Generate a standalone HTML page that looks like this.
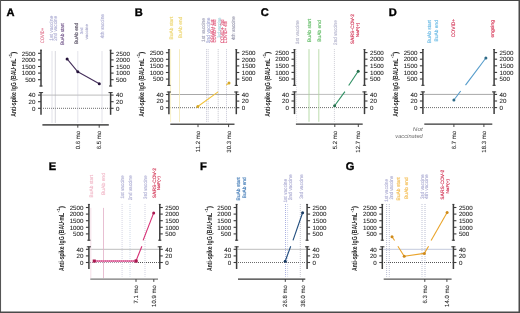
<!DOCTYPE html>
<html><head><meta charset="utf-8"><title>Figure</title>
<style>
html,body{margin:0;padding:0;background:#fff;}
body{width:520px;height:313px;overflow:hidden;}
svg{display:block;filter:blur(0.4px);text-rendering:geometricPrecision;font-family:"Liberation Sans", sans-serif;}
</style></head>
<body>
<svg width="520" height="313" viewBox="0 0 520 313">
<rect x="0" y="0" width="520" height="313" fill="#fff"/>
<text x="6.40" y="15.70" font-size="11.1" font-weight="bold" fill="#000" stroke="#000" stroke-width="0.35">A</text>
<text transform="translate(16.10,116.80) rotate(-90)" font-size="7.4" font-weight="bold" fill="#1e1e1e" textLength="58.2" lengthAdjust="spacingAndGlyphs">Anti-spike IgG (BAU·mL</text>
<text transform="translate(12.40,58.30) rotate(-90)" font-size="4.6" font-weight="bold" fill="#1e1e1e" textLength="4.5" lengthAdjust="spacingAndGlyphs">-1</text>
<text transform="translate(16.10,54.00) rotate(-90)" font-size="7.4" font-weight="bold" fill="#1e1e1e" textLength="2.5" lengthAdjust="spacingAndGlyphs">)</text>
<line x1="41.80" y1="95.10" x2="109.80" y2="95.10" stroke="#bdbdbd" stroke-width="1.0" stroke-linecap="butt"/>
<line x1="43.00" y1="108.30" x2="109.60" y2="108.30" stroke="#6c6c6c" stroke-width="1.0" stroke-dasharray="1 1" stroke-linecap="butt"/>
<line x1="52.00" y1="51.50" x2="52.00" y2="122.50" stroke="#c2c2d2" stroke-width="0.9" stroke-dasharray="1 1" stroke-linecap="butt"/>
<line x1="55.30" y1="51.50" x2="55.30" y2="122.50" stroke="#a8a8b4" stroke-width="0.9" stroke-dasharray="1 1" stroke-linecap="butt"/>
<line x1="77.80" y1="51.50" x2="77.80" y2="122.50" stroke="#c2c2d2" stroke-width="0.9" stroke-dasharray="1 1" stroke-linecap="butt"/>
<line x1="102.00" y1="51.50" x2="102.00" y2="122.50" stroke="#c2c2d2" stroke-width="0.9" stroke-dasharray="1 1" stroke-linecap="butt"/>
<line x1="41.00" y1="49.80" x2="41.00" y2="86.50" stroke="#3c3c3c" stroke-width="1.5" stroke-linecap="butt"/>
<line x1="39.40" y1="86.00" x2="42.60" y2="86.00" stroke="#3c3c3c" stroke-width="1.0" stroke-linecap="butt"/>
<line x1="40.00" y1="50.20" x2="42.00" y2="50.20" stroke="#3c3c3c" stroke-width="0.8" stroke-linecap="butt"/>
<line x1="41.00" y1="92.10" x2="41.00" y2="114.80" stroke="#3c3c3c" stroke-width="1.5" stroke-linecap="butt"/>
<line x1="38.90" y1="92.60" x2="43.10" y2="92.60" stroke="#3c3c3c" stroke-width="1.0" stroke-linecap="butt"/>
<line x1="41.00" y1="53.30" x2="38.00" y2="53.30" stroke="#3c3c3c" stroke-width="1.1" stroke-linecap="butt"/>
<text x="35.50" y="55.50" font-size="6.2" text-anchor="end" fill="#1e1e1e" stroke="#1e1e1e" stroke-width="0.08">2500</text>
<line x1="41.00" y1="59.90" x2="38.00" y2="59.90" stroke="#3c3c3c" stroke-width="1.1" stroke-linecap="butt"/>
<text x="35.50" y="62.10" font-size="6.2" text-anchor="end" fill="#1e1e1e" stroke="#1e1e1e" stroke-width="0.08">2000</text>
<line x1="41.00" y1="66.50" x2="38.00" y2="66.50" stroke="#3c3c3c" stroke-width="1.1" stroke-linecap="butt"/>
<text x="35.50" y="68.70" font-size="6.2" text-anchor="end" fill="#1e1e1e" stroke="#1e1e1e" stroke-width="0.08">1500</text>
<line x1="41.00" y1="73.10" x2="38.00" y2="73.10" stroke="#3c3c3c" stroke-width="1.1" stroke-linecap="butt"/>
<text x="35.50" y="75.30" font-size="6.2" text-anchor="end" fill="#1e1e1e" stroke="#1e1e1e" stroke-width="0.08">1000</text>
<line x1="41.00" y1="79.70" x2="38.00" y2="79.70" stroke="#3c3c3c" stroke-width="1.1" stroke-linecap="butt"/>
<text x="35.50" y="81.90" font-size="6.2" text-anchor="end" fill="#1e1e1e" stroke="#1e1e1e" stroke-width="0.08">500</text>
<line x1="41.00" y1="95.10" x2="38.00" y2="95.10" stroke="#3c3c3c" stroke-width="1.1" stroke-linecap="butt"/>
<text x="35.50" y="97.30" font-size="6.2" text-anchor="end" fill="#1e1e1e" stroke="#1e1e1e" stroke-width="0.08">40</text>
<line x1="41.00" y1="101.70" x2="38.00" y2="101.70" stroke="#3c3c3c" stroke-width="1.1" stroke-linecap="butt"/>
<text x="35.50" y="103.90" font-size="6.2" text-anchor="end" fill="#1e1e1e" stroke="#1e1e1e" stroke-width="0.08">20</text>
<line x1="41.00" y1="108.30" x2="38.00" y2="108.30" stroke="#3c3c3c" stroke-width="1.1" stroke-linecap="butt"/>
<text x="35.50" y="110.50" font-size="6.2" text-anchor="end" fill="#1e1e1e" stroke="#1e1e1e" stroke-width="0.08">0</text>
<line x1="110.60" y1="49.80" x2="110.60" y2="86.50" stroke="#3c3c3c" stroke-width="1.5" stroke-linecap="butt"/>
<line x1="109.00" y1="86.00" x2="112.20" y2="86.00" stroke="#3c3c3c" stroke-width="1.0" stroke-linecap="butt"/>
<line x1="109.60" y1="50.20" x2="111.60" y2="50.20" stroke="#3c3c3c" stroke-width="0.8" stroke-linecap="butt"/>
<line x1="110.60" y1="92.10" x2="110.60" y2="114.80" stroke="#3c3c3c" stroke-width="1.5" stroke-linecap="butt"/>
<line x1="108.50" y1="92.60" x2="112.70" y2="92.60" stroke="#3c3c3c" stroke-width="1.0" stroke-linecap="butt"/>
<line x1="110.60" y1="53.30" x2="113.60" y2="53.30" stroke="#3c3c3c" stroke-width="1.1" stroke-linecap="butt"/>
<text x="116.10" y="55.50" font-size="6.2" fill="#1e1e1e" stroke="#1e1e1e" stroke-width="0.08">2500</text>
<line x1="110.60" y1="59.90" x2="113.60" y2="59.90" stroke="#3c3c3c" stroke-width="1.1" stroke-linecap="butt"/>
<text x="116.10" y="62.10" font-size="6.2" fill="#1e1e1e" stroke="#1e1e1e" stroke-width="0.08">2000</text>
<line x1="110.60" y1="66.50" x2="113.60" y2="66.50" stroke="#3c3c3c" stroke-width="1.1" stroke-linecap="butt"/>
<text x="116.10" y="68.70" font-size="6.2" fill="#1e1e1e" stroke="#1e1e1e" stroke-width="0.08">1500</text>
<line x1="110.60" y1="73.10" x2="113.60" y2="73.10" stroke="#3c3c3c" stroke-width="1.1" stroke-linecap="butt"/>
<text x="116.10" y="75.30" font-size="6.2" fill="#1e1e1e" stroke="#1e1e1e" stroke-width="0.08">1000</text>
<line x1="110.60" y1="79.70" x2="113.60" y2="79.70" stroke="#3c3c3c" stroke-width="1.1" stroke-linecap="butt"/>
<text x="116.10" y="81.90" font-size="6.2" fill="#1e1e1e" stroke="#1e1e1e" stroke-width="0.08">500</text>
<line x1="110.60" y1="95.10" x2="113.60" y2="95.10" stroke="#3c3c3c" stroke-width="1.1" stroke-linecap="butt"/>
<text x="116.10" y="97.30" font-size="6.2" fill="#1e1e1e" stroke="#1e1e1e" stroke-width="0.08">40</text>
<line x1="110.60" y1="101.70" x2="113.60" y2="101.70" stroke="#3c3c3c" stroke-width="1.1" stroke-linecap="butt"/>
<text x="116.10" y="103.90" font-size="6.2" fill="#1e1e1e" stroke="#1e1e1e" stroke-width="0.08">20</text>
<line x1="110.60" y1="108.30" x2="113.60" y2="108.30" stroke="#3c3c3c" stroke-width="1.1" stroke-linecap="butt"/>
<text x="116.10" y="110.50" font-size="6.2" fill="#1e1e1e" stroke="#1e1e1e" stroke-width="0.08">0</text>
<line x1="42.40" y1="124.90" x2="108.80" y2="124.90" stroke="#5c5c5c" stroke-width="1.7" stroke-linecap="butt"/>
<line x1="77.80" y1="124.90" x2="77.80" y2="127.70" stroke="#333" stroke-width="0.9" stroke-linecap="butt"/>
<text transform="translate(79.90,131.00) rotate(-90)" font-size="6" text-anchor="end" fill="#1e1e1e" stroke="#1e1e1e" stroke-width="0.08">0.6 mo</text>
<line x1="99.20" y1="124.90" x2="99.20" y2="127.70" stroke="#333" stroke-width="0.9" stroke-linecap="butt"/>
<text transform="translate(101.30,131.00) rotate(-90)" font-size="6" text-anchor="end" fill="#1e1e1e" stroke="#1e1e1e" stroke-width="0.08">6.5 mo</text>
<text transform="translate(44.35,43.00) rotate(-90)" font-size="5.0" font-weight="normal" font-style="normal" fill="#e27c94" stroke="#e27c94" stroke-width="0.16" textLength="15.10" lengthAdjust="spacingAndGlyphs">COVID+</text>
<text transform="translate(53.05,40.70) rotate(-90)" font-size="5.0" font-weight="normal" font-style="normal" fill="#b2b2d6" stroke="#b2b2d6" stroke-width="0.16" textLength="24.90" lengthAdjust="spacingAndGlyphs">1st vaccine</text>
<text transform="translate(57.05,40.70) rotate(-90)" font-size="5.0" font-weight="normal" font-style="normal" fill="#b2b2d6" stroke="#b2b2d6" stroke-width="0.16" textLength="24.90" lengthAdjust="spacingAndGlyphs">2nd vaccine</text>
<text transform="translate(64.35,44.90) rotate(-90)" font-size="5.0" font-weight="normal" font-style="normal" fill="#765a8e" stroke="#765a8e" stroke-width="0.16" textLength="21.60" lengthAdjust="spacingAndGlyphs">BuAb start</text>
<text transform="translate(77.55,43.90) rotate(-90)" font-size="5.0" font-weight="normal" font-style="normal" fill="#585064" stroke="#585064" stroke-width="0.16" textLength="21.10" lengthAdjust="spacingAndGlyphs">BuAb end</text>
<text transform="translate(82.72,34.20) rotate(-90)" font-size="4.0" font-weight="normal" font-style="normal" fill="#b2b2d6" stroke="#b2b2d6" stroke-width="0.16" textLength="6.70" lengthAdjust="spacingAndGlyphs">3rd</text>
<text transform="translate(88.32,39.50) rotate(-90)" font-size="4.0" font-weight="normal" font-style="normal" fill="#b0b0d0" stroke="#b0b0d0" stroke-width="0.16" textLength="15.50" lengthAdjust="spacingAndGlyphs">vaccine</text>
<text transform="translate(104.15,38.20) rotate(-90)" font-size="5.0" font-weight="normal" font-style="normal" fill="#b2b2d6" stroke="#b2b2d6" stroke-width="0.16" textLength="24.20" lengthAdjust="spacingAndGlyphs">4th vaccine</text>
<polyline points="67.10,58.90 77.80,71.80 99.30,83.80" fill="none" stroke="#46305c" stroke-width="1.1" stroke-linejoin="round"/>
<circle cx="67.10" cy="58.90" r="1.5" fill="#24123a"/>
<circle cx="77.80" cy="71.80" r="1.5" fill="#24123a"/>
<circle cx="99.30" cy="83.80" r="1.5" fill="#24123a"/>
<text x="134.80" y="15.70" font-size="11.1" font-weight="bold" fill="#000" stroke="#000" stroke-width="0.35">B</text>
<text transform="translate(144.00,116.80) rotate(-90)" font-size="7.4" font-weight="bold" fill="#1e1e1e" textLength="58.2" lengthAdjust="spacingAndGlyphs">Anti-spike IgG (BAU·mL</text>
<text transform="translate(140.30,58.30) rotate(-90)" font-size="4.6" font-weight="bold" fill="#1e1e1e" textLength="4.5" lengthAdjust="spacingAndGlyphs">-1</text>
<text transform="translate(144.00,54.00) rotate(-90)" font-size="7.4" font-weight="bold" fill="#1e1e1e" textLength="2.5" lengthAdjust="spacingAndGlyphs">)</text>
<line x1="169.70" y1="94.50" x2="235.50" y2="94.50" stroke="#a8a8a8" stroke-width="1.0" stroke-linecap="butt"/>
<line x1="170.00" y1="107.70" x2="235.30" y2="107.70" stroke="#6c6c6c" stroke-width="1.0" stroke-dasharray="1 1" stroke-linecap="butt"/>
<line x1="170.60" y1="49.20" x2="170.60" y2="121.90" stroke="#f6eebc" stroke-width="0.8" stroke-linecap="butt"/>
<line x1="179.50" y1="49.20" x2="179.50" y2="121.90" stroke="#f3e6b0" stroke-width="0.8" stroke-linecap="butt"/>
<line x1="206.50" y1="49.20" x2="206.50" y2="121.90" stroke="#c2c2d2" stroke-width="0.9" stroke-dasharray="1 1" stroke-linecap="butt"/>
<line x1="208.20" y1="49.20" x2="208.20" y2="121.90" stroke="#c2c2d2" stroke-width="0.9" stroke-dasharray="1 1" stroke-linecap="butt"/>
<line x1="218.20" y1="49.20" x2="218.20" y2="121.90" stroke="#c0c0c8" stroke-width="0.9" stroke-dasharray="1 1" stroke-linecap="butt"/>
<line x1="226.50" y1="49.20" x2="226.50" y2="121.90" stroke="#c2c2d2" stroke-width="0.9" stroke-dasharray="1 1" stroke-linecap="butt"/>
<line x1="168.90" y1="49.20" x2="168.90" y2="85.90" stroke="#3c3c3c" stroke-width="1.5" stroke-linecap="butt"/>
<line x1="167.30" y1="85.40" x2="170.50" y2="85.40" stroke="#3c3c3c" stroke-width="1.0" stroke-linecap="butt"/>
<line x1="167.90" y1="49.60" x2="169.90" y2="49.60" stroke="#3c3c3c" stroke-width="0.8" stroke-linecap="butt"/>
<line x1="168.90" y1="91.50" x2="168.90" y2="114.20" stroke="#3c3c3c" stroke-width="1.5" stroke-linecap="butt"/>
<line x1="166.80" y1="92.00" x2="171.00" y2="92.00" stroke="#3c3c3c" stroke-width="1.0" stroke-linecap="butt"/>
<line x1="168.90" y1="52.70" x2="165.90" y2="52.70" stroke="#3c3c3c" stroke-width="1.1" stroke-linecap="butt"/>
<text x="163.40" y="54.90" font-size="6.2" text-anchor="end" fill="#1e1e1e" stroke="#1e1e1e" stroke-width="0.08">2500</text>
<line x1="168.90" y1="59.30" x2="165.90" y2="59.30" stroke="#3c3c3c" stroke-width="1.1" stroke-linecap="butt"/>
<text x="163.40" y="61.50" font-size="6.2" text-anchor="end" fill="#1e1e1e" stroke="#1e1e1e" stroke-width="0.08">2000</text>
<line x1="168.90" y1="65.90" x2="165.90" y2="65.90" stroke="#3c3c3c" stroke-width="1.1" stroke-linecap="butt"/>
<text x="163.40" y="68.10" font-size="6.2" text-anchor="end" fill="#1e1e1e" stroke="#1e1e1e" stroke-width="0.08">1500</text>
<line x1="168.90" y1="72.50" x2="165.90" y2="72.50" stroke="#3c3c3c" stroke-width="1.1" stroke-linecap="butt"/>
<text x="163.40" y="74.70" font-size="6.2" text-anchor="end" fill="#1e1e1e" stroke="#1e1e1e" stroke-width="0.08">1000</text>
<line x1="168.90" y1="79.10" x2="165.90" y2="79.10" stroke="#3c3c3c" stroke-width="1.1" stroke-linecap="butt"/>
<text x="163.40" y="81.30" font-size="6.2" text-anchor="end" fill="#1e1e1e" stroke="#1e1e1e" stroke-width="0.08">500</text>
<line x1="168.90" y1="94.50" x2="165.90" y2="94.50" stroke="#3c3c3c" stroke-width="1.1" stroke-linecap="butt"/>
<text x="163.40" y="96.70" font-size="6.2" text-anchor="end" fill="#1e1e1e" stroke="#1e1e1e" stroke-width="0.08">40</text>
<line x1="168.90" y1="101.10" x2="165.90" y2="101.10" stroke="#3c3c3c" stroke-width="1.1" stroke-linecap="butt"/>
<text x="163.40" y="103.30" font-size="6.2" text-anchor="end" fill="#1e1e1e" stroke="#1e1e1e" stroke-width="0.08">20</text>
<line x1="168.90" y1="107.70" x2="165.90" y2="107.70" stroke="#3c3c3c" stroke-width="1.1" stroke-linecap="butt"/>
<text x="163.40" y="109.90" font-size="6.2" text-anchor="end" fill="#1e1e1e" stroke="#1e1e1e" stroke-width="0.08">0</text>
<line x1="236.30" y1="49.20" x2="236.30" y2="85.90" stroke="#3c3c3c" stroke-width="1.5" stroke-linecap="butt"/>
<line x1="234.70" y1="85.40" x2="237.90" y2="85.40" stroke="#3c3c3c" stroke-width="1.0" stroke-linecap="butt"/>
<line x1="235.30" y1="49.60" x2="237.30" y2="49.60" stroke="#3c3c3c" stroke-width="0.8" stroke-linecap="butt"/>
<line x1="236.30" y1="91.50" x2="236.30" y2="114.20" stroke="#3c3c3c" stroke-width="1.5" stroke-linecap="butt"/>
<line x1="234.20" y1="92.00" x2="238.40" y2="92.00" stroke="#3c3c3c" stroke-width="1.0" stroke-linecap="butt"/>
<line x1="236.30" y1="52.70" x2="239.30" y2="52.70" stroke="#3c3c3c" stroke-width="1.1" stroke-linecap="butt"/>
<text x="241.80" y="54.90" font-size="6.2" fill="#1e1e1e" stroke="#1e1e1e" stroke-width="0.08">2500</text>
<line x1="236.30" y1="59.30" x2="239.30" y2="59.30" stroke="#3c3c3c" stroke-width="1.1" stroke-linecap="butt"/>
<text x="241.80" y="61.50" font-size="6.2" fill="#1e1e1e" stroke="#1e1e1e" stroke-width="0.08">2000</text>
<line x1="236.30" y1="65.90" x2="239.30" y2="65.90" stroke="#3c3c3c" stroke-width="1.1" stroke-linecap="butt"/>
<text x="241.80" y="68.10" font-size="6.2" fill="#1e1e1e" stroke="#1e1e1e" stroke-width="0.08">1500</text>
<line x1="236.30" y1="72.50" x2="239.30" y2="72.50" stroke="#3c3c3c" stroke-width="1.1" stroke-linecap="butt"/>
<text x="241.80" y="74.70" font-size="6.2" fill="#1e1e1e" stroke="#1e1e1e" stroke-width="0.08">1000</text>
<line x1="236.30" y1="79.10" x2="239.30" y2="79.10" stroke="#3c3c3c" stroke-width="1.1" stroke-linecap="butt"/>
<text x="241.80" y="81.30" font-size="6.2" fill="#1e1e1e" stroke="#1e1e1e" stroke-width="0.08">500</text>
<line x1="236.30" y1="94.50" x2="239.30" y2="94.50" stroke="#3c3c3c" stroke-width="1.1" stroke-linecap="butt"/>
<text x="241.80" y="96.70" font-size="6.2" fill="#1e1e1e" stroke="#1e1e1e" stroke-width="0.08">40</text>
<line x1="236.30" y1="101.10" x2="239.30" y2="101.10" stroke="#3c3c3c" stroke-width="1.1" stroke-linecap="butt"/>
<text x="241.80" y="103.30" font-size="6.2" fill="#1e1e1e" stroke="#1e1e1e" stroke-width="0.08">20</text>
<line x1="236.30" y1="107.70" x2="239.30" y2="107.70" stroke="#3c3c3c" stroke-width="1.1" stroke-linecap="butt"/>
<text x="241.80" y="109.90" font-size="6.2" fill="#1e1e1e" stroke="#1e1e1e" stroke-width="0.08">0</text>
<line x1="170.30" y1="124.30" x2="234.50" y2="124.30" stroke="#555" stroke-width="1.5" stroke-linecap="butt"/>
<line x1="198.00" y1="124.30" x2="198.00" y2="127.10" stroke="#333" stroke-width="0.9" stroke-linecap="butt"/>
<text transform="translate(200.10,131.00) rotate(-90)" font-size="6" text-anchor="end" fill="#1e1e1e" stroke="#1e1e1e" stroke-width="0.08">11.2 mo</text>
<line x1="228.60" y1="124.30" x2="228.60" y2="127.10" stroke="#333" stroke-width="0.9" stroke-linecap="butt"/>
<text transform="translate(230.70,131.00) rotate(-90)" font-size="6" text-anchor="end" fill="#1e1e1e" stroke="#1e1e1e" stroke-width="0.08">30.3 mo</text>
<text transform="translate(172.75,39.50) rotate(-90)" font-size="5.0" font-weight="normal" font-style="normal" fill="#eed878" stroke="#eed878" stroke-width="0.16" textLength="22.80" lengthAdjust="spacingAndGlyphs">BuAb start</text>
<text transform="translate(181.65,38.20) rotate(-90)" font-size="5.0" font-weight="normal" font-style="normal" fill="#eed878" stroke="#eed878" stroke-width="0.16" textLength="21.50" lengthAdjust="spacingAndGlyphs">BuAb end</text>
<text transform="translate(204.75,41.90) rotate(-90)" font-size="5.0" font-weight="normal" font-style="normal" fill="#a4a4b8" stroke="#a4a4b8" stroke-width="0.16" textLength="23.70" lengthAdjust="spacingAndGlyphs">1st vaccine</text>
<text transform="translate(209.75,43.20) rotate(-90)" font-size="5.0" font-weight="normal" font-style="normal" fill="#a8acd6" stroke="#a8acd6" stroke-width="0.16" textLength="25.60" lengthAdjust="spacingAndGlyphs">2nd vaccine</text>
<text transform="translate(213.55,42.50) rotate(-90)" font-size="5.0" font-weight="normal" font-style="normal" fill="#e06080" stroke="#e06080" stroke-width="0.16" textLength="23.00" lengthAdjust="spacingAndGlyphs">COVID+ 1st</text>
<text transform="translate(216.15,42.50) rotate(-90)" font-size="5.0" font-weight="normal" font-style="normal" fill="#e06080" stroke="#e06080" stroke-width="0.16" textLength="23.00" lengthAdjust="spacingAndGlyphs">COVID+ 2nd</text>
<text transform="translate(220.55,38.00) rotate(-90)" font-size="5.0" font-weight="normal" font-style="normal" fill="#a4d2dc" stroke="#a4d2dc" stroke-width="0.16" textLength="20.40" lengthAdjust="spacingAndGlyphs">3rd vaccine</text>
<text transform="translate(223.85,43.20) rotate(-90)" font-size="5.0" font-weight="normal" font-style="normal" fill="#e06080" stroke="#e06080" stroke-width="0.16" textLength="23.70" lengthAdjust="spacingAndGlyphs">COVID+ 3rd</text>
<text transform="translate(227.05,43.20) rotate(-90)" font-size="5.0" font-weight="normal" font-style="normal" fill="#e06080" stroke="#e06080" stroke-width="0.16" textLength="22.20" lengthAdjust="spacingAndGlyphs">COVID+ 4th</text>
<text transform="translate(235.45,40.00) rotate(-90)" font-size="5.0" font-weight="normal" font-style="normal" fill="#9c9cb0" stroke="#9c9cb0" stroke-width="0.16" textLength="23.70" lengthAdjust="spacingAndGlyphs">4th vaccine</text>
<polyline points="197.80,106.50 218.10,91.90" fill="none" stroke="#f2c23a" stroke-width="1.1" stroke-linejoin="round"/>
<polyline points="226.20,85.10 229.00,83.10" fill="none" stroke="#f2c23a" stroke-width="1.1" stroke-linejoin="round"/>
<circle cx="197.80" cy="106.50" r="1.5" fill="#d4a82a"/>
<circle cx="229.00" cy="83.10" r="1.5" fill="#d4a82a"/>
<text x="260.80" y="15.70" font-size="11.1" font-weight="bold" fill="#000" stroke="#000" stroke-width="0.35">C</text>
<text transform="translate(269.60,116.80) rotate(-90)" font-size="7.4" font-weight="bold" fill="#1e1e1e" textLength="58.2" lengthAdjust="spacingAndGlyphs">Anti-spike IgG (BAU·mL</text>
<text transform="translate(265.90,58.30) rotate(-90)" font-size="4.6" font-weight="bold" fill="#1e1e1e" textLength="4.5" lengthAdjust="spacingAndGlyphs">-1</text>
<text transform="translate(269.60,54.00) rotate(-90)" font-size="7.4" font-weight="bold" fill="#1e1e1e" textLength="2.5" lengthAdjust="spacingAndGlyphs">)</text>
<line x1="295.30" y1="94.40" x2="363.70" y2="94.40" stroke="#bdbdbd" stroke-width="1.0" stroke-linecap="butt"/>
<line x1="296.00" y1="107.60" x2="363.50" y2="107.60" stroke="#6c6c6c" stroke-width="1.0" stroke-dasharray="1 1" stroke-linecap="butt"/>
<line x1="296.60" y1="49.10" x2="296.60" y2="121.80" stroke="#dcdce4" stroke-width="0.9" stroke-dasharray="1 1" stroke-linecap="butt"/>
<line x1="309.00" y1="49.10" x2="309.00" y2="121.80" stroke="#a6d296" stroke-width="0.8" stroke-linecap="butt"/>
<line x1="318.80" y1="49.10" x2="318.80" y2="121.80" stroke="#acd49a" stroke-width="0.8" stroke-linecap="butt"/>
<line x1="334.40" y1="49.10" x2="334.40" y2="121.80" stroke="#c8c8d0" stroke-width="0.9" stroke-dasharray="1 1" stroke-linecap="butt"/>
<line x1="294.50" y1="49.10" x2="294.50" y2="85.80" stroke="#3c3c3c" stroke-width="1.5" stroke-linecap="butt"/>
<line x1="292.90" y1="85.30" x2="296.10" y2="85.30" stroke="#3c3c3c" stroke-width="1.0" stroke-linecap="butt"/>
<line x1="293.50" y1="49.50" x2="295.50" y2="49.50" stroke="#3c3c3c" stroke-width="0.8" stroke-linecap="butt"/>
<line x1="294.50" y1="91.40" x2="294.50" y2="114.10" stroke="#3c3c3c" stroke-width="1.5" stroke-linecap="butt"/>
<line x1="292.40" y1="91.90" x2="296.60" y2="91.90" stroke="#3c3c3c" stroke-width="1.0" stroke-linecap="butt"/>
<line x1="294.50" y1="52.60" x2="291.50" y2="52.60" stroke="#3c3c3c" stroke-width="1.1" stroke-linecap="butt"/>
<text x="289.00" y="54.80" font-size="6.2" text-anchor="end" fill="#1e1e1e" stroke="#1e1e1e" stroke-width="0.08">2500</text>
<line x1="294.50" y1="59.20" x2="291.50" y2="59.20" stroke="#3c3c3c" stroke-width="1.1" stroke-linecap="butt"/>
<text x="289.00" y="61.40" font-size="6.2" text-anchor="end" fill="#1e1e1e" stroke="#1e1e1e" stroke-width="0.08">2000</text>
<line x1="294.50" y1="65.80" x2="291.50" y2="65.80" stroke="#3c3c3c" stroke-width="1.1" stroke-linecap="butt"/>
<text x="289.00" y="68.00" font-size="6.2" text-anchor="end" fill="#1e1e1e" stroke="#1e1e1e" stroke-width="0.08">1500</text>
<line x1="294.50" y1="72.40" x2="291.50" y2="72.40" stroke="#3c3c3c" stroke-width="1.1" stroke-linecap="butt"/>
<text x="289.00" y="74.60" font-size="6.2" text-anchor="end" fill="#1e1e1e" stroke="#1e1e1e" stroke-width="0.08">1000</text>
<line x1="294.50" y1="79.00" x2="291.50" y2="79.00" stroke="#3c3c3c" stroke-width="1.1" stroke-linecap="butt"/>
<text x="289.00" y="81.20" font-size="6.2" text-anchor="end" fill="#1e1e1e" stroke="#1e1e1e" stroke-width="0.08">500</text>
<line x1="294.50" y1="94.40" x2="291.50" y2="94.40" stroke="#3c3c3c" stroke-width="1.1" stroke-linecap="butt"/>
<text x="289.00" y="96.60" font-size="6.2" text-anchor="end" fill="#1e1e1e" stroke="#1e1e1e" stroke-width="0.08">40</text>
<line x1="294.50" y1="101.00" x2="291.50" y2="101.00" stroke="#3c3c3c" stroke-width="1.1" stroke-linecap="butt"/>
<text x="289.00" y="103.20" font-size="6.2" text-anchor="end" fill="#1e1e1e" stroke="#1e1e1e" stroke-width="0.08">20</text>
<line x1="294.50" y1="107.60" x2="291.50" y2="107.60" stroke="#3c3c3c" stroke-width="1.1" stroke-linecap="butt"/>
<text x="289.00" y="109.80" font-size="6.2" text-anchor="end" fill="#1e1e1e" stroke="#1e1e1e" stroke-width="0.08">0</text>
<line x1="364.50" y1="49.10" x2="364.50" y2="85.80" stroke="#3c3c3c" stroke-width="1.5" stroke-linecap="butt"/>
<line x1="362.90" y1="85.30" x2="366.10" y2="85.30" stroke="#3c3c3c" stroke-width="1.0" stroke-linecap="butt"/>
<line x1="363.50" y1="49.50" x2="365.50" y2="49.50" stroke="#3c3c3c" stroke-width="0.8" stroke-linecap="butt"/>
<line x1="364.50" y1="91.40" x2="364.50" y2="114.10" stroke="#3c3c3c" stroke-width="1.5" stroke-linecap="butt"/>
<line x1="362.40" y1="91.90" x2="366.60" y2="91.90" stroke="#3c3c3c" stroke-width="1.0" stroke-linecap="butt"/>
<line x1="364.50" y1="52.60" x2="367.50" y2="52.60" stroke="#3c3c3c" stroke-width="1.1" stroke-linecap="butt"/>
<text x="370.00" y="54.80" font-size="6.2" fill="#1e1e1e" stroke="#1e1e1e" stroke-width="0.08">2500</text>
<line x1="364.50" y1="59.20" x2="367.50" y2="59.20" stroke="#3c3c3c" stroke-width="1.1" stroke-linecap="butt"/>
<text x="370.00" y="61.40" font-size="6.2" fill="#1e1e1e" stroke="#1e1e1e" stroke-width="0.08">2000</text>
<line x1="364.50" y1="65.80" x2="367.50" y2="65.80" stroke="#3c3c3c" stroke-width="1.1" stroke-linecap="butt"/>
<text x="370.00" y="68.00" font-size="6.2" fill="#1e1e1e" stroke="#1e1e1e" stroke-width="0.08">1500</text>
<line x1="364.50" y1="72.40" x2="367.50" y2="72.40" stroke="#3c3c3c" stroke-width="1.1" stroke-linecap="butt"/>
<text x="370.00" y="74.60" font-size="6.2" fill="#1e1e1e" stroke="#1e1e1e" stroke-width="0.08">1000</text>
<line x1="364.50" y1="79.00" x2="367.50" y2="79.00" stroke="#3c3c3c" stroke-width="1.1" stroke-linecap="butt"/>
<text x="370.00" y="81.20" font-size="6.2" fill="#1e1e1e" stroke="#1e1e1e" stroke-width="0.08">500</text>
<line x1="364.50" y1="94.40" x2="367.50" y2="94.40" stroke="#3c3c3c" stroke-width="1.1" stroke-linecap="butt"/>
<text x="370.00" y="96.60" font-size="6.2" fill="#1e1e1e" stroke="#1e1e1e" stroke-width="0.08">40</text>
<line x1="364.50" y1="101.00" x2="367.50" y2="101.00" stroke="#3c3c3c" stroke-width="1.1" stroke-linecap="butt"/>
<text x="370.00" y="103.20" font-size="6.2" fill="#1e1e1e" stroke="#1e1e1e" stroke-width="0.08">20</text>
<line x1="364.50" y1="107.60" x2="367.50" y2="107.60" stroke="#3c3c3c" stroke-width="1.1" stroke-linecap="butt"/>
<text x="370.00" y="109.80" font-size="6.2" fill="#1e1e1e" stroke="#1e1e1e" stroke-width="0.08">0</text>
<line x1="295.90" y1="124.20" x2="362.70" y2="124.20" stroke="#353535" stroke-width="1.3" stroke-linecap="butt"/>
<line x1="334.80" y1="124.20" x2="334.80" y2="127.00" stroke="#333" stroke-width="0.9" stroke-linecap="butt"/>
<text transform="translate(336.90,131.00) rotate(-90)" font-size="6" text-anchor="end" fill="#1e1e1e" stroke="#1e1e1e" stroke-width="0.08">5.2 mo</text>
<line x1="358.30" y1="124.20" x2="358.30" y2="127.00" stroke="#333" stroke-width="0.9" stroke-linecap="butt"/>
<text transform="translate(360.40,131.00) rotate(-90)" font-size="6" text-anchor="end" fill="#1e1e1e" stroke="#1e1e1e" stroke-width="0.08">12.7 mo</text>
<text transform="translate(299.05,44.20) rotate(-90)" font-size="5.0" font-weight="normal" font-style="normal" fill="#b8b8cc" stroke="#b8b8cc" stroke-width="0.16" textLength="23.90" lengthAdjust="spacingAndGlyphs">1st vaccine</text>
<text transform="translate(311.15,42.20) rotate(-90)" font-size="5.0" font-weight="normal" font-style="normal" fill="#6cc070" stroke="#6cc070" stroke-width="0.16" textLength="23.40" lengthAdjust="spacingAndGlyphs">BuAb start</text>
<text transform="translate(320.65,41.80) rotate(-90)" font-size="5.0" font-weight="normal" font-style="normal" fill="#6cc070" stroke="#6cc070" stroke-width="0.16" textLength="21.50" lengthAdjust="spacingAndGlyphs">BuAb end</text>
<text transform="translate(336.75,44.90) rotate(-90)" font-size="5.0" font-weight="normal" font-style="normal" fill="#b8b8d0" stroke="#b8b8d0" stroke-width="0.16" textLength="24.60" lengthAdjust="spacingAndGlyphs">2nd vaccine</text>
<text transform="translate(353.86,44.20) rotate(-90)" font-size="4.8" font-weight="normal" font-style="normal" fill="#d43a5a" stroke="#d43a5a" stroke-width="0.16" textLength="30.20" lengthAdjust="spacingAndGlyphs">SARS-COV-2</text>
<text transform="translate(358.62,37.20) rotate(-90)" font-size="4.0" font-weight="normal" font-style="normal" fill="#d43a5a" stroke="#d43a5a" stroke-width="0.16" textLength="14.60" lengthAdjust="spacingAndGlyphs">NaF(+)</text>
<polyline points="334.60,105.80 344.90,91.60" fill="none" stroke="#2e8f62" stroke-width="1.1" stroke-linejoin="round"/>
<polyline points="348.70,85.50 358.20,71.20" fill="none" stroke="#2e8f62" stroke-width="1.1" stroke-linejoin="round"/>
<circle cx="334.60" cy="105.80" r="1.5" fill="#256e4c"/>
<circle cx="358.20" cy="71.20" r="1.5" fill="#256e4c"/>
<text x="388.80" y="15.70" font-size="11.1" font-weight="bold" fill="#000" stroke="#000" stroke-width="0.35">D</text>
<text transform="translate(398.00,116.80) rotate(-90)" font-size="7.4" font-weight="bold" fill="#1e1e1e" textLength="58.2" lengthAdjust="spacingAndGlyphs">Anti-spike IgG (BAU·mL</text>
<text transform="translate(394.30,58.30) rotate(-90)" font-size="4.6" font-weight="bold" fill="#1e1e1e" textLength="4.5" lengthAdjust="spacingAndGlyphs">-1</text>
<text transform="translate(398.00,54.00) rotate(-90)" font-size="7.4" font-weight="bold" fill="#1e1e1e" textLength="2.5" lengthAdjust="spacingAndGlyphs">)</text>
<line x1="423.70" y1="94.40" x2="493.30" y2="94.40" stroke="#a8a8a8" stroke-width="1.0" stroke-linecap="butt"/>
<line x1="424.00" y1="107.60" x2="493.10" y2="107.60" stroke="#6c6c6c" stroke-width="1.0" stroke-dasharray="1 1" stroke-linecap="butt"/>
<line x1="422.90" y1="49.10" x2="422.90" y2="85.80" stroke="#3c3c3c" stroke-width="1.5" stroke-linecap="butt"/>
<line x1="421.30" y1="85.30" x2="424.50" y2="85.30" stroke="#3c3c3c" stroke-width="1.0" stroke-linecap="butt"/>
<line x1="421.90" y1="49.50" x2="423.90" y2="49.50" stroke="#3c3c3c" stroke-width="0.8" stroke-linecap="butt"/>
<line x1="422.90" y1="91.40" x2="422.90" y2="114.10" stroke="#3c3c3c" stroke-width="1.5" stroke-linecap="butt"/>
<line x1="420.80" y1="91.90" x2="425.00" y2="91.90" stroke="#3c3c3c" stroke-width="1.0" stroke-linecap="butt"/>
<line x1="422.90" y1="52.60" x2="419.90" y2="52.60" stroke="#3c3c3c" stroke-width="1.1" stroke-linecap="butt"/>
<text x="417.40" y="54.80" font-size="6.2" text-anchor="end" fill="#1e1e1e" stroke="#1e1e1e" stroke-width="0.08">2500</text>
<line x1="422.90" y1="59.20" x2="419.90" y2="59.20" stroke="#3c3c3c" stroke-width="1.1" stroke-linecap="butt"/>
<text x="417.40" y="61.40" font-size="6.2" text-anchor="end" fill="#1e1e1e" stroke="#1e1e1e" stroke-width="0.08">2000</text>
<line x1="422.90" y1="65.80" x2="419.90" y2="65.80" stroke="#3c3c3c" stroke-width="1.1" stroke-linecap="butt"/>
<text x="417.40" y="68.00" font-size="6.2" text-anchor="end" fill="#1e1e1e" stroke="#1e1e1e" stroke-width="0.08">1500</text>
<line x1="422.90" y1="72.40" x2="419.90" y2="72.40" stroke="#3c3c3c" stroke-width="1.1" stroke-linecap="butt"/>
<text x="417.40" y="74.60" font-size="6.2" text-anchor="end" fill="#1e1e1e" stroke="#1e1e1e" stroke-width="0.08">1000</text>
<line x1="422.90" y1="79.00" x2="419.90" y2="79.00" stroke="#3c3c3c" stroke-width="1.1" stroke-linecap="butt"/>
<text x="417.40" y="81.20" font-size="6.2" text-anchor="end" fill="#1e1e1e" stroke="#1e1e1e" stroke-width="0.08">500</text>
<line x1="422.90" y1="94.40" x2="419.90" y2="94.40" stroke="#3c3c3c" stroke-width="1.1" stroke-linecap="butt"/>
<text x="417.40" y="96.60" font-size="6.2" text-anchor="end" fill="#1e1e1e" stroke="#1e1e1e" stroke-width="0.08">40</text>
<line x1="422.90" y1="101.00" x2="419.90" y2="101.00" stroke="#3c3c3c" stroke-width="1.1" stroke-linecap="butt"/>
<text x="417.40" y="103.20" font-size="6.2" text-anchor="end" fill="#1e1e1e" stroke="#1e1e1e" stroke-width="0.08">20</text>
<line x1="422.90" y1="107.60" x2="419.90" y2="107.60" stroke="#3c3c3c" stroke-width="1.1" stroke-linecap="butt"/>
<text x="417.40" y="109.80" font-size="6.2" text-anchor="end" fill="#1e1e1e" stroke="#1e1e1e" stroke-width="0.08">0</text>
<line x1="494.10" y1="49.10" x2="494.10" y2="85.80" stroke="#3c3c3c" stroke-width="1.5" stroke-linecap="butt"/>
<line x1="492.50" y1="85.30" x2="495.70" y2="85.30" stroke="#3c3c3c" stroke-width="1.0" stroke-linecap="butt"/>
<line x1="493.10" y1="49.50" x2="495.10" y2="49.50" stroke="#3c3c3c" stroke-width="0.8" stroke-linecap="butt"/>
<line x1="494.10" y1="91.40" x2="494.10" y2="114.10" stroke="#3c3c3c" stroke-width="1.5" stroke-linecap="butt"/>
<line x1="492.00" y1="91.90" x2="496.20" y2="91.90" stroke="#3c3c3c" stroke-width="1.0" stroke-linecap="butt"/>
<line x1="494.10" y1="52.60" x2="497.10" y2="52.60" stroke="#3c3c3c" stroke-width="1.1" stroke-linecap="butt"/>
<text x="499.60" y="54.80" font-size="6.2" fill="#1e1e1e" stroke="#1e1e1e" stroke-width="0.08">2500</text>
<line x1="494.10" y1="59.20" x2="497.10" y2="59.20" stroke="#3c3c3c" stroke-width="1.1" stroke-linecap="butt"/>
<text x="499.60" y="61.40" font-size="6.2" fill="#1e1e1e" stroke="#1e1e1e" stroke-width="0.08">2000</text>
<line x1="494.10" y1="65.80" x2="497.10" y2="65.80" stroke="#3c3c3c" stroke-width="1.1" stroke-linecap="butt"/>
<text x="499.60" y="68.00" font-size="6.2" fill="#1e1e1e" stroke="#1e1e1e" stroke-width="0.08">1500</text>
<line x1="494.10" y1="72.40" x2="497.10" y2="72.40" stroke="#3c3c3c" stroke-width="1.1" stroke-linecap="butt"/>
<text x="499.60" y="74.60" font-size="6.2" fill="#1e1e1e" stroke="#1e1e1e" stroke-width="0.08">1000</text>
<line x1="494.10" y1="79.00" x2="497.10" y2="79.00" stroke="#3c3c3c" stroke-width="1.1" stroke-linecap="butt"/>
<text x="499.60" y="81.20" font-size="6.2" fill="#1e1e1e" stroke="#1e1e1e" stroke-width="0.08">500</text>
<line x1="494.10" y1="94.40" x2="497.10" y2="94.40" stroke="#3c3c3c" stroke-width="1.1" stroke-linecap="butt"/>
<text x="499.60" y="96.60" font-size="6.2" fill="#1e1e1e" stroke="#1e1e1e" stroke-width="0.08">40</text>
<line x1="494.10" y1="101.00" x2="497.10" y2="101.00" stroke="#3c3c3c" stroke-width="1.1" stroke-linecap="butt"/>
<text x="499.60" y="103.20" font-size="6.2" fill="#1e1e1e" stroke="#1e1e1e" stroke-width="0.08">20</text>
<line x1="494.10" y1="107.60" x2="497.10" y2="107.60" stroke="#3c3c3c" stroke-width="1.1" stroke-linecap="butt"/>
<text x="499.60" y="109.80" font-size="6.2" fill="#1e1e1e" stroke="#1e1e1e" stroke-width="0.08">0</text>
<line x1="424.30" y1="124.20" x2="492.30" y2="124.20" stroke="#353535" stroke-width="1.3" stroke-linecap="butt"/>
<line x1="453.90" y1="124.20" x2="453.90" y2="127.00" stroke="#333" stroke-width="0.9" stroke-linecap="butt"/>
<text transform="translate(456.00,131.00) rotate(-90)" font-size="6" text-anchor="end" fill="#1e1e1e" stroke="#1e1e1e" stroke-width="0.08">6.7 mo</text>
<line x1="483.90" y1="124.20" x2="483.90" y2="127.00" stroke="#333" stroke-width="0.9" stroke-linecap="butt"/>
<text transform="translate(486.00,131.00) rotate(-90)" font-size="6" text-anchor="end" fill="#1e1e1e" stroke="#1e1e1e" stroke-width="0.08">18.3 mo</text>
<text transform="translate(431.25,43.20) rotate(-90)" font-size="5.0" font-weight="normal" font-style="normal" fill="#70bde6" stroke="#70bde6" stroke-width="0.16" textLength="23.10" lengthAdjust="spacingAndGlyphs">BuAb start</text>
<text transform="translate(438.25,41.60) rotate(-90)" font-size="5.0" font-weight="normal" font-style="normal" fill="#70bde6" stroke="#70bde6" stroke-width="0.16" textLength="21.50" lengthAdjust="spacingAndGlyphs">BuAb end</text>
<text transform="translate(455.25,37.20) rotate(-90)" font-size="5.0" font-weight="normal" font-style="normal" fill="#d4395a" stroke="#d4395a" stroke-width="0.16" textLength="18.40" lengthAdjust="spacingAndGlyphs">COVID+</text>
<text transform="translate(493.65,37.50) rotate(-90)" font-size="5.0" font-weight="normal" font-style="normal" fill="#d8405f" stroke="#d8405f" stroke-width="0.16" textLength="17.40" lengthAdjust="spacingAndGlyphs">ongoing</text>
<polyline points="453.90,100.00 460.70,91.00" fill="none" stroke="#559ccb" stroke-width="1.1" stroke-linejoin="round"/>
<polyline points="465.50,85.10 485.90,58.00" fill="none" stroke="#559ccb" stroke-width="1.1" stroke-linejoin="round"/>
<circle cx="453.90" cy="100.00" r="1.5" fill="#2f6a86"/>
<circle cx="485.90" cy="58.00" r="1.5" fill="#2f6a86"/>
<text x="48.80" y="169.90" font-size="11.1" font-weight="bold" fill="#000" stroke="#000" stroke-width="0.35">E</text>
<text transform="translate(64.00,271.00) rotate(-90)" font-size="7.4" font-weight="bold" fill="#1e1e1e" textLength="58.2" lengthAdjust="spacingAndGlyphs">Anti-spike IgG (BAU·mL</text>
<text transform="translate(60.30,212.50) rotate(-90)" font-size="4.6" font-weight="bold" fill="#1e1e1e" textLength="4.5" lengthAdjust="spacingAndGlyphs">-1</text>
<text transform="translate(64.00,208.20) rotate(-90)" font-size="7.4" font-weight="bold" fill="#1e1e1e" textLength="2.5" lengthAdjust="spacingAndGlyphs">)</text>
<line x1="89.70" y1="249.30" x2="159.00" y2="249.30" stroke="#bdbdbd" stroke-width="1.0" stroke-linecap="butt"/>
<line x1="138.00" y1="262.50" x2="158.80" y2="262.50" stroke="#555" stroke-width="1.0" stroke-dasharray="1 1" stroke-linecap="butt"/>
<line x1="90.80" y1="207.90" x2="90.80" y2="278.20" stroke="#f2d8e2" stroke-width="0.8" stroke-linecap="butt"/>
<line x1="103.50" y1="207.90" x2="103.50" y2="278.20" stroke="#e2afc6" stroke-width="0.8" stroke-linecap="butt"/>
<line x1="122.10" y1="204.00" x2="122.10" y2="276.70" stroke="#d0d0e0" stroke-width="0.9" stroke-dasharray="1 1" stroke-linecap="butt"/>
<line x1="130.00" y1="204.00" x2="130.00" y2="276.70" stroke="#c8d4e4" stroke-width="0.9" stroke-dasharray="1 1" stroke-linecap="butt"/>
<line x1="145.00" y1="204.00" x2="145.00" y2="276.70" stroke="#ccccdc" stroke-width="0.9" stroke-dasharray="1 1" stroke-linecap="butt"/>
<line x1="88.90" y1="204.00" x2="88.90" y2="240.70" stroke="#3c3c3c" stroke-width="1.5" stroke-linecap="butt"/>
<line x1="87.30" y1="240.20" x2="90.50" y2="240.20" stroke="#3c3c3c" stroke-width="1.0" stroke-linecap="butt"/>
<line x1="87.90" y1="204.40" x2="89.90" y2="204.40" stroke="#3c3c3c" stroke-width="0.8" stroke-linecap="butt"/>
<line x1="88.90" y1="246.30" x2="88.90" y2="269.00" stroke="#3c3c3c" stroke-width="1.5" stroke-linecap="butt"/>
<line x1="86.80" y1="246.80" x2="91.00" y2="246.80" stroke="#3c3c3c" stroke-width="1.0" stroke-linecap="butt"/>
<line x1="88.90" y1="207.50" x2="85.90" y2="207.50" stroke="#3c3c3c" stroke-width="1.1" stroke-linecap="butt"/>
<text x="83.40" y="209.70" font-size="6.2" text-anchor="end" fill="#1e1e1e" stroke="#1e1e1e" stroke-width="0.08">2500</text>
<line x1="88.90" y1="214.10" x2="85.90" y2="214.10" stroke="#3c3c3c" stroke-width="1.1" stroke-linecap="butt"/>
<text x="83.40" y="216.30" font-size="6.2" text-anchor="end" fill="#1e1e1e" stroke="#1e1e1e" stroke-width="0.08">2000</text>
<line x1="88.90" y1="220.70" x2="85.90" y2="220.70" stroke="#3c3c3c" stroke-width="1.1" stroke-linecap="butt"/>
<text x="83.40" y="222.90" font-size="6.2" text-anchor="end" fill="#1e1e1e" stroke="#1e1e1e" stroke-width="0.08">1500</text>
<line x1="88.90" y1="227.30" x2="85.90" y2="227.30" stroke="#3c3c3c" stroke-width="1.1" stroke-linecap="butt"/>
<text x="83.40" y="229.50" font-size="6.2" text-anchor="end" fill="#1e1e1e" stroke="#1e1e1e" stroke-width="0.08">1000</text>
<line x1="88.90" y1="233.90" x2="85.90" y2="233.90" stroke="#3c3c3c" stroke-width="1.1" stroke-linecap="butt"/>
<text x="83.40" y="236.10" font-size="6.2" text-anchor="end" fill="#1e1e1e" stroke="#1e1e1e" stroke-width="0.08">500</text>
<line x1="88.90" y1="249.30" x2="85.90" y2="249.30" stroke="#3c3c3c" stroke-width="1.1" stroke-linecap="butt"/>
<text x="83.40" y="251.50" font-size="6.2" text-anchor="end" fill="#1e1e1e" stroke="#1e1e1e" stroke-width="0.08">40</text>
<line x1="88.90" y1="255.90" x2="85.90" y2="255.90" stroke="#3c3c3c" stroke-width="1.1" stroke-linecap="butt"/>
<text x="83.40" y="258.10" font-size="6.2" text-anchor="end" fill="#1e1e1e" stroke="#1e1e1e" stroke-width="0.08">20</text>
<line x1="88.90" y1="262.50" x2="85.90" y2="262.50" stroke="#3c3c3c" stroke-width="1.1" stroke-linecap="butt"/>
<text x="83.40" y="264.70" font-size="6.2" text-anchor="end" fill="#1e1e1e" stroke="#1e1e1e" stroke-width="0.08">0</text>
<line x1="159.80" y1="204.00" x2="159.80" y2="240.70" stroke="#3c3c3c" stroke-width="1.5" stroke-linecap="butt"/>
<line x1="158.20" y1="240.20" x2="161.40" y2="240.20" stroke="#3c3c3c" stroke-width="1.0" stroke-linecap="butt"/>
<line x1="158.80" y1="204.40" x2="160.80" y2="204.40" stroke="#3c3c3c" stroke-width="0.8" stroke-linecap="butt"/>
<line x1="159.80" y1="246.30" x2="159.80" y2="269.00" stroke="#3c3c3c" stroke-width="1.5" stroke-linecap="butt"/>
<line x1="157.70" y1="246.80" x2="161.90" y2="246.80" stroke="#3c3c3c" stroke-width="1.0" stroke-linecap="butt"/>
<line x1="159.80" y1="207.50" x2="162.80" y2="207.50" stroke="#3c3c3c" stroke-width="1.1" stroke-linecap="butt"/>
<text x="165.30" y="209.70" font-size="6.2" fill="#1e1e1e" stroke="#1e1e1e" stroke-width="0.08">2500</text>
<line x1="159.80" y1="214.10" x2="162.80" y2="214.10" stroke="#3c3c3c" stroke-width="1.1" stroke-linecap="butt"/>
<text x="165.30" y="216.30" font-size="6.2" fill="#1e1e1e" stroke="#1e1e1e" stroke-width="0.08">2000</text>
<line x1="159.80" y1="220.70" x2="162.80" y2="220.70" stroke="#3c3c3c" stroke-width="1.1" stroke-linecap="butt"/>
<text x="165.30" y="222.90" font-size="6.2" fill="#1e1e1e" stroke="#1e1e1e" stroke-width="0.08">1500</text>
<line x1="159.80" y1="227.30" x2="162.80" y2="227.30" stroke="#3c3c3c" stroke-width="1.1" stroke-linecap="butt"/>
<text x="165.30" y="229.50" font-size="6.2" fill="#1e1e1e" stroke="#1e1e1e" stroke-width="0.08">1000</text>
<line x1="159.80" y1="233.90" x2="162.80" y2="233.90" stroke="#3c3c3c" stroke-width="1.1" stroke-linecap="butt"/>
<text x="165.30" y="236.10" font-size="6.2" fill="#1e1e1e" stroke="#1e1e1e" stroke-width="0.08">500</text>
<line x1="159.80" y1="249.30" x2="162.80" y2="249.30" stroke="#3c3c3c" stroke-width="1.1" stroke-linecap="butt"/>
<text x="165.30" y="251.50" font-size="6.2" fill="#1e1e1e" stroke="#1e1e1e" stroke-width="0.08">40</text>
<line x1="159.80" y1="255.90" x2="162.80" y2="255.90" stroke="#3c3c3c" stroke-width="1.1" stroke-linecap="butt"/>
<text x="165.30" y="258.10" font-size="6.2" fill="#1e1e1e" stroke="#1e1e1e" stroke-width="0.08">20</text>
<line x1="159.80" y1="262.50" x2="162.80" y2="262.50" stroke="#3c3c3c" stroke-width="1.1" stroke-linecap="butt"/>
<text x="165.30" y="264.70" font-size="6.2" fill="#1e1e1e" stroke="#1e1e1e" stroke-width="0.08">0</text>
<line x1="90.30" y1="279.10" x2="158.00" y2="279.10" stroke="#777" stroke-width="1.1" stroke-linecap="butt"/>
<line x1="136.00" y1="279.10" x2="136.00" y2="281.90" stroke="#333" stroke-width="0.9" stroke-linecap="butt"/>
<text transform="translate(138.10,285.20) rotate(-90)" font-size="6" text-anchor="end" fill="#1e1e1e" stroke="#1e1e1e" stroke-width="0.08">7.1 mo</text>
<line x1="153.80" y1="279.10" x2="153.80" y2="281.90" stroke="#333" stroke-width="0.9" stroke-linecap="butt"/>
<text transform="translate(155.90,285.20) rotate(-90)" font-size="6" text-anchor="end" fill="#1e1e1e" stroke="#1e1e1e" stroke-width="0.08">10.9 mo</text>
<text transform="translate(92.75,197.40) rotate(-90)" font-size="5.0" font-weight="normal" font-style="normal" fill="#f2bccb" stroke="#f2bccb" stroke-width="0.16" textLength="22.40" lengthAdjust="spacingAndGlyphs">BuAb start</text>
<text transform="translate(105.45,195.10) rotate(-90)" font-size="5.0" font-weight="normal" font-style="normal" fill="#f2bccb" stroke="#f2bccb" stroke-width="0.16" textLength="22.30" lengthAdjust="spacingAndGlyphs">BuAb end</text>
<text transform="translate(124.25,198.50) rotate(-90)" font-size="5.0" font-weight="normal" font-style="normal" fill="#b2b2d6" stroke="#b2b2d6" stroke-width="0.16" textLength="23.10" lengthAdjust="spacingAndGlyphs">1st vaccine</text>
<text transform="translate(131.95,200.30) rotate(-90)" font-size="5.0" font-weight="normal" font-style="normal" fill="#b2b2d6" stroke="#b2b2d6" stroke-width="0.16" textLength="24.90" lengthAdjust="spacingAndGlyphs">2nd vaccine</text>
<text transform="translate(146.95,198.90) rotate(-90)" font-size="5.0" font-weight="normal" font-style="normal" fill="#b2b2d6" stroke="#b2b2d6" stroke-width="0.16" textLength="23.50" lengthAdjust="spacingAndGlyphs">3rd vaccine</text>
<text transform="translate(155.66,198.20) rotate(-90)" font-size="4.8" font-weight="normal" font-style="normal" fill="#d43a5a" stroke="#d43a5a" stroke-width="0.16" textLength="30.20" lengthAdjust="spacingAndGlyphs">SARS-COV-2</text>
<text transform="translate(160.02,190.20) rotate(-90)" font-size="4.0" font-weight="normal" font-style="normal" fill="#d43a5a" stroke="#d43a5a" stroke-width="0.16" textLength="14.20" lengthAdjust="spacingAndGlyphs">NaF(+)</text>
<polyline points="136.00,260.90 141.90,246.20" fill="none" stroke="#d62c72" stroke-width="1.1" stroke-linejoin="round"/>
<polyline points="143.10,240.40 153.70,212.90" fill="none" stroke="#d62c72" stroke-width="1.1" stroke-linejoin="round"/>
<circle cx="136.00" cy="260.90" r="1.5" fill="#a81850"/>
<circle cx="153.70" cy="212.90" r="1.5" fill="#a81850"/>
<text x="199.90" y="169.90" font-size="11.1" font-weight="bold" fill="#000" stroke="#000" stroke-width="0.35">F</text>
<text transform="translate(211.70,271.00) rotate(-90)" font-size="7.4" font-weight="bold" fill="#1e1e1e" textLength="58.2" lengthAdjust="spacingAndGlyphs">Anti-spike IgG (BAU·mL</text>
<text transform="translate(208.00,212.50) rotate(-90)" font-size="4.6" font-weight="bold" fill="#1e1e1e" textLength="4.5" lengthAdjust="spacingAndGlyphs">-1</text>
<text transform="translate(211.70,208.20) rotate(-90)" font-size="7.4" font-weight="bold" fill="#1e1e1e" textLength="2.5" lengthAdjust="spacingAndGlyphs">)</text>
<line x1="237.40" y1="249.30" x2="306.30" y2="249.30" stroke="#bdbdbd" stroke-width="1.0" stroke-linecap="butt"/>
<line x1="238.00" y1="262.50" x2="306.10" y2="262.50" stroke="#6c6c6c" stroke-width="1.0" stroke-dasharray="1 1" stroke-linecap="butt"/>
<line x1="285.50" y1="204.00" x2="285.50" y2="276.70" stroke="#a0a8dc" stroke-width="0.9" stroke-dasharray="1 1" stroke-linecap="butt"/>
<line x1="287.60" y1="204.00" x2="287.60" y2="276.70" stroke="#ccd0ea" stroke-width="0.9" stroke-dasharray="1 1" stroke-linecap="butt"/>
<line x1="300.30" y1="204.00" x2="300.30" y2="276.70" stroke="#c0c0cc" stroke-width="0.9" stroke-dasharray="1 1" stroke-linecap="butt"/>
<line x1="236.60" y1="204.00" x2="236.60" y2="240.70" stroke="#3c3c3c" stroke-width="1.5" stroke-linecap="butt"/>
<line x1="235.00" y1="240.20" x2="238.20" y2="240.20" stroke="#3c3c3c" stroke-width="1.0" stroke-linecap="butt"/>
<line x1="235.60" y1="204.40" x2="237.60" y2="204.40" stroke="#3c3c3c" stroke-width="0.8" stroke-linecap="butt"/>
<line x1="236.60" y1="246.30" x2="236.60" y2="269.00" stroke="#3c3c3c" stroke-width="1.5" stroke-linecap="butt"/>
<line x1="234.50" y1="246.80" x2="238.70" y2="246.80" stroke="#3c3c3c" stroke-width="1.0" stroke-linecap="butt"/>
<line x1="236.60" y1="207.50" x2="233.60" y2="207.50" stroke="#3c3c3c" stroke-width="1.1" stroke-linecap="butt"/>
<text x="231.10" y="209.70" font-size="6.2" text-anchor="end" fill="#1e1e1e" stroke="#1e1e1e" stroke-width="0.08">2500</text>
<line x1="236.60" y1="214.10" x2="233.60" y2="214.10" stroke="#3c3c3c" stroke-width="1.1" stroke-linecap="butt"/>
<text x="231.10" y="216.30" font-size="6.2" text-anchor="end" fill="#1e1e1e" stroke="#1e1e1e" stroke-width="0.08">2000</text>
<line x1="236.60" y1="220.70" x2="233.60" y2="220.70" stroke="#3c3c3c" stroke-width="1.1" stroke-linecap="butt"/>
<text x="231.10" y="222.90" font-size="6.2" text-anchor="end" fill="#1e1e1e" stroke="#1e1e1e" stroke-width="0.08">1500</text>
<line x1="236.60" y1="227.30" x2="233.60" y2="227.30" stroke="#3c3c3c" stroke-width="1.1" stroke-linecap="butt"/>
<text x="231.10" y="229.50" font-size="6.2" text-anchor="end" fill="#1e1e1e" stroke="#1e1e1e" stroke-width="0.08">1000</text>
<line x1="236.60" y1="233.90" x2="233.60" y2="233.90" stroke="#3c3c3c" stroke-width="1.1" stroke-linecap="butt"/>
<text x="231.10" y="236.10" font-size="6.2" text-anchor="end" fill="#1e1e1e" stroke="#1e1e1e" stroke-width="0.08">500</text>
<line x1="236.60" y1="249.30" x2="233.60" y2="249.30" stroke="#3c3c3c" stroke-width="1.1" stroke-linecap="butt"/>
<text x="231.10" y="251.50" font-size="6.2" text-anchor="end" fill="#1e1e1e" stroke="#1e1e1e" stroke-width="0.08">40</text>
<line x1="236.60" y1="255.90" x2="233.60" y2="255.90" stroke="#3c3c3c" stroke-width="1.1" stroke-linecap="butt"/>
<text x="231.10" y="258.10" font-size="6.2" text-anchor="end" fill="#1e1e1e" stroke="#1e1e1e" stroke-width="0.08">20</text>
<line x1="236.60" y1="262.50" x2="233.60" y2="262.50" stroke="#3c3c3c" stroke-width="1.1" stroke-linecap="butt"/>
<text x="231.10" y="264.70" font-size="6.2" text-anchor="end" fill="#1e1e1e" stroke="#1e1e1e" stroke-width="0.08">0</text>
<line x1="307.10" y1="204.00" x2="307.10" y2="240.70" stroke="#3c3c3c" stroke-width="1.5" stroke-linecap="butt"/>
<line x1="305.50" y1="240.20" x2="308.70" y2="240.20" stroke="#3c3c3c" stroke-width="1.0" stroke-linecap="butt"/>
<line x1="306.10" y1="204.40" x2="308.10" y2="204.40" stroke="#3c3c3c" stroke-width="0.8" stroke-linecap="butt"/>
<line x1="307.10" y1="246.30" x2="307.10" y2="269.00" stroke="#3c3c3c" stroke-width="1.5" stroke-linecap="butt"/>
<line x1="305.00" y1="246.80" x2="309.20" y2="246.80" stroke="#3c3c3c" stroke-width="1.0" stroke-linecap="butt"/>
<line x1="307.10" y1="207.50" x2="310.10" y2="207.50" stroke="#3c3c3c" stroke-width="1.1" stroke-linecap="butt"/>
<text x="312.60" y="209.70" font-size="6.2" fill="#1e1e1e" stroke="#1e1e1e" stroke-width="0.08">2500</text>
<line x1="307.10" y1="214.10" x2="310.10" y2="214.10" stroke="#3c3c3c" stroke-width="1.1" stroke-linecap="butt"/>
<text x="312.60" y="216.30" font-size="6.2" fill="#1e1e1e" stroke="#1e1e1e" stroke-width="0.08">2000</text>
<line x1="307.10" y1="220.70" x2="310.10" y2="220.70" stroke="#3c3c3c" stroke-width="1.1" stroke-linecap="butt"/>
<text x="312.60" y="222.90" font-size="6.2" fill="#1e1e1e" stroke="#1e1e1e" stroke-width="0.08">1500</text>
<line x1="307.10" y1="227.30" x2="310.10" y2="227.30" stroke="#3c3c3c" stroke-width="1.1" stroke-linecap="butt"/>
<text x="312.60" y="229.50" font-size="6.2" fill="#1e1e1e" stroke="#1e1e1e" stroke-width="0.08">1000</text>
<line x1="307.10" y1="233.90" x2="310.10" y2="233.90" stroke="#3c3c3c" stroke-width="1.1" stroke-linecap="butt"/>
<text x="312.60" y="236.10" font-size="6.2" fill="#1e1e1e" stroke="#1e1e1e" stroke-width="0.08">500</text>
<line x1="307.10" y1="249.30" x2="310.10" y2="249.30" stroke="#3c3c3c" stroke-width="1.1" stroke-linecap="butt"/>
<text x="312.60" y="251.50" font-size="6.2" fill="#1e1e1e" stroke="#1e1e1e" stroke-width="0.08">40</text>
<line x1="307.10" y1="255.90" x2="310.10" y2="255.90" stroke="#3c3c3c" stroke-width="1.1" stroke-linecap="butt"/>
<text x="312.60" y="258.10" font-size="6.2" fill="#1e1e1e" stroke="#1e1e1e" stroke-width="0.08">20</text>
<line x1="307.10" y1="262.50" x2="310.10" y2="262.50" stroke="#3c3c3c" stroke-width="1.1" stroke-linecap="butt"/>
<text x="312.60" y="264.70" font-size="6.2" fill="#1e1e1e" stroke="#1e1e1e" stroke-width="0.08">0</text>
<line x1="238.00" y1="279.10" x2="305.30" y2="279.10" stroke="#353535" stroke-width="1.2" stroke-linecap="butt"/>
<line x1="285.30" y1="279.10" x2="285.30" y2="281.90" stroke="#333" stroke-width="0.9" stroke-linecap="butt"/>
<text transform="translate(287.40,285.20) rotate(-90)" font-size="6" text-anchor="end" fill="#1e1e1e" stroke="#1e1e1e" stroke-width="0.08">26.8 mo</text>
<line x1="302.80" y1="279.10" x2="302.80" y2="281.90" stroke="#333" stroke-width="0.9" stroke-linecap="butt"/>
<text transform="translate(304.90,285.20) rotate(-90)" font-size="6" text-anchor="end" fill="#1e1e1e" stroke="#1e1e1e" stroke-width="0.08">38.0 mo</text>
<text transform="translate(240.15,200.50) rotate(-90)" font-size="5.0" font-weight="normal" font-style="normal" fill="#4f84bc" stroke="#4f84bc" stroke-width="0.16" textLength="23.10" lengthAdjust="spacingAndGlyphs">BuAb start</text>
<text transform="translate(246.15,198.20) rotate(-90)" font-size="5.0" font-weight="normal" font-style="normal" fill="#4f84bc" stroke="#4f84bc" stroke-width="0.16" textLength="20.80" lengthAdjust="spacingAndGlyphs">BuAb end</text>
<text transform="translate(287.35,202.60) rotate(-90)" font-size="5.0" font-weight="normal" font-style="normal" fill="#b2b2d6" stroke="#b2b2d6" stroke-width="0.16" textLength="23.70" lengthAdjust="spacingAndGlyphs">1st vaccine</text>
<text transform="translate(291.95,200.30) rotate(-90)" font-size="5.0" font-weight="normal" font-style="normal" fill="#b2b2d6" stroke="#b2b2d6" stroke-width="0.16" textLength="26.00" lengthAdjust="spacingAndGlyphs">2nd vaccine</text>
<text transform="translate(302.65,198.80) rotate(-90)" font-size="5.0" font-weight="normal" font-style="normal" fill="#b2b2d6" stroke="#b2b2d6" stroke-width="0.16" textLength="24.50" lengthAdjust="spacingAndGlyphs">3rd vaccine</text>
<polyline points="285.20,261.30 290.70,246.20" fill="none" stroke="#1f4b7c" stroke-width="1.1" stroke-linejoin="round"/>
<polyline points="293.00,240.40 302.60,212.80" fill="none" stroke="#1f4b7c" stroke-width="1.1" stroke-linejoin="round"/>
<circle cx="285.20" cy="261.30" r="1.5" fill="#173a62"/>
<circle cx="302.60" cy="212.80" r="1.5" fill="#173a62"/>
<text x="345.80" y="169.90" font-size="11.1" font-weight="bold" fill="#000" stroke="#000" stroke-width="0.35">G</text>
<text transform="translate(357.40,271.00) rotate(-90)" font-size="7.4" font-weight="bold" fill="#1e1e1e" textLength="58.2" lengthAdjust="spacingAndGlyphs">Anti-spike IgG (BAU·mL</text>
<text transform="translate(353.70,212.50) rotate(-90)" font-size="4.6" font-weight="bold" fill="#1e1e1e" textLength="4.5" lengthAdjust="spacingAndGlyphs">-1</text>
<text transform="translate(357.40,208.20) rotate(-90)" font-size="7.4" font-weight="bold" fill="#1e1e1e" textLength="2.5" lengthAdjust="spacingAndGlyphs">)</text>
<line x1="383.10" y1="249.30" x2="452.60" y2="249.30" stroke="#c4cadc" stroke-width="1.0" stroke-linecap="butt"/>
<line x1="384.00" y1="262.50" x2="452.40" y2="262.50" stroke="#555" stroke-width="1.0" stroke-dasharray="1 1" stroke-linecap="butt"/>
<line x1="386.60" y1="204.00" x2="386.60" y2="276.70" stroke="#b0b4cc" stroke-width="0.9" stroke-dasharray="1 1" stroke-linecap="butt"/>
<line x1="389.30" y1="204.00" x2="389.30" y2="276.70" stroke="#b4b8d0" stroke-width="0.9" stroke-dasharray="1 1" stroke-linecap="butt"/>
<line x1="422.00" y1="204.00" x2="422.00" y2="276.70" stroke="#b8bcd0" stroke-width="0.9" stroke-dasharray="1 1" stroke-linecap="butt"/>
<line x1="425.00" y1="204.00" x2="425.00" y2="276.70" stroke="#b0b4cc" stroke-width="0.9" stroke-dasharray="1 1" stroke-linecap="butt"/>
<line x1="382.30" y1="204.00" x2="382.30" y2="240.70" stroke="#3c3c3c" stroke-width="1.5" stroke-linecap="butt"/>
<line x1="380.70" y1="240.20" x2="383.90" y2="240.20" stroke="#3c3c3c" stroke-width="1.0" stroke-linecap="butt"/>
<line x1="381.30" y1="204.40" x2="383.30" y2="204.40" stroke="#3c3c3c" stroke-width="0.8" stroke-linecap="butt"/>
<line x1="382.30" y1="246.30" x2="382.30" y2="269.00" stroke="#3c3c3c" stroke-width="1.5" stroke-linecap="butt"/>
<line x1="380.20" y1="246.80" x2="384.40" y2="246.80" stroke="#3c3c3c" stroke-width="1.0" stroke-linecap="butt"/>
<line x1="382.30" y1="207.50" x2="379.30" y2="207.50" stroke="#3c3c3c" stroke-width="1.1" stroke-linecap="butt"/>
<text x="376.80" y="209.70" font-size="6.2" text-anchor="end" fill="#1e1e1e" stroke="#1e1e1e" stroke-width="0.08">2500</text>
<line x1="382.30" y1="214.10" x2="379.30" y2="214.10" stroke="#3c3c3c" stroke-width="1.1" stroke-linecap="butt"/>
<text x="376.80" y="216.30" font-size="6.2" text-anchor="end" fill="#1e1e1e" stroke="#1e1e1e" stroke-width="0.08">2000</text>
<line x1="382.30" y1="220.70" x2="379.30" y2="220.70" stroke="#3c3c3c" stroke-width="1.1" stroke-linecap="butt"/>
<text x="376.80" y="222.90" font-size="6.2" text-anchor="end" fill="#1e1e1e" stroke="#1e1e1e" stroke-width="0.08">1500</text>
<line x1="382.30" y1="227.30" x2="379.30" y2="227.30" stroke="#3c3c3c" stroke-width="1.1" stroke-linecap="butt"/>
<text x="376.80" y="229.50" font-size="6.2" text-anchor="end" fill="#1e1e1e" stroke="#1e1e1e" stroke-width="0.08">1000</text>
<line x1="382.30" y1="233.90" x2="379.30" y2="233.90" stroke="#3c3c3c" stroke-width="1.1" stroke-linecap="butt"/>
<text x="376.80" y="236.10" font-size="6.2" text-anchor="end" fill="#1e1e1e" stroke="#1e1e1e" stroke-width="0.08">500</text>
<line x1="382.30" y1="249.30" x2="379.30" y2="249.30" stroke="#3c3c3c" stroke-width="1.1" stroke-linecap="butt"/>
<text x="376.80" y="251.50" font-size="6.2" text-anchor="end" fill="#1e1e1e" stroke="#1e1e1e" stroke-width="0.08">40</text>
<line x1="382.30" y1="255.90" x2="379.30" y2="255.90" stroke="#3c3c3c" stroke-width="1.1" stroke-linecap="butt"/>
<text x="376.80" y="258.10" font-size="6.2" text-anchor="end" fill="#1e1e1e" stroke="#1e1e1e" stroke-width="0.08">20</text>
<line x1="382.30" y1="262.50" x2="379.30" y2="262.50" stroke="#3c3c3c" stroke-width="1.1" stroke-linecap="butt"/>
<text x="376.80" y="264.70" font-size="6.2" text-anchor="end" fill="#1e1e1e" stroke="#1e1e1e" stroke-width="0.08">0</text>
<line x1="453.40" y1="204.00" x2="453.40" y2="240.70" stroke="#3c3c3c" stroke-width="1.5" stroke-linecap="butt"/>
<line x1="451.80" y1="240.20" x2="455.00" y2="240.20" stroke="#3c3c3c" stroke-width="1.0" stroke-linecap="butt"/>
<line x1="452.40" y1="204.40" x2="454.40" y2="204.40" stroke="#3c3c3c" stroke-width="0.8" stroke-linecap="butt"/>
<line x1="453.40" y1="246.30" x2="453.40" y2="269.00" stroke="#3c3c3c" stroke-width="1.5" stroke-linecap="butt"/>
<line x1="451.30" y1="246.80" x2="455.50" y2="246.80" stroke="#3c3c3c" stroke-width="1.0" stroke-linecap="butt"/>
<line x1="453.40" y1="207.50" x2="456.40" y2="207.50" stroke="#3c3c3c" stroke-width="1.1" stroke-linecap="butt"/>
<text x="458.90" y="209.70" font-size="6.2" fill="#1e1e1e" stroke="#1e1e1e" stroke-width="0.08">2500</text>
<line x1="453.40" y1="214.10" x2="456.40" y2="214.10" stroke="#3c3c3c" stroke-width="1.1" stroke-linecap="butt"/>
<text x="458.90" y="216.30" font-size="6.2" fill="#1e1e1e" stroke="#1e1e1e" stroke-width="0.08">2000</text>
<line x1="453.40" y1="220.70" x2="456.40" y2="220.70" stroke="#3c3c3c" stroke-width="1.1" stroke-linecap="butt"/>
<text x="458.90" y="222.90" font-size="6.2" fill="#1e1e1e" stroke="#1e1e1e" stroke-width="0.08">1500</text>
<line x1="453.40" y1="227.30" x2="456.40" y2="227.30" stroke="#3c3c3c" stroke-width="1.1" stroke-linecap="butt"/>
<text x="458.90" y="229.50" font-size="6.2" fill="#1e1e1e" stroke="#1e1e1e" stroke-width="0.08">1000</text>
<line x1="453.40" y1="233.90" x2="456.40" y2="233.90" stroke="#3c3c3c" stroke-width="1.1" stroke-linecap="butt"/>
<text x="458.90" y="236.10" font-size="6.2" fill="#1e1e1e" stroke="#1e1e1e" stroke-width="0.08">500</text>
<line x1="453.40" y1="249.30" x2="456.40" y2="249.30" stroke="#3c3c3c" stroke-width="1.1" stroke-linecap="butt"/>
<text x="458.90" y="251.50" font-size="6.2" fill="#1e1e1e" stroke="#1e1e1e" stroke-width="0.08">40</text>
<line x1="453.40" y1="255.90" x2="456.40" y2="255.90" stroke="#3c3c3c" stroke-width="1.1" stroke-linecap="butt"/>
<text x="458.90" y="258.10" font-size="6.2" fill="#1e1e1e" stroke="#1e1e1e" stroke-width="0.08">20</text>
<line x1="453.40" y1="262.50" x2="456.40" y2="262.50" stroke="#3c3c3c" stroke-width="1.1" stroke-linecap="butt"/>
<text x="458.90" y="264.70" font-size="6.2" fill="#1e1e1e" stroke="#1e1e1e" stroke-width="0.08">0</text>
<line x1="383.70" y1="279.10" x2="451.60" y2="279.10" stroke="#555" stroke-width="1.3" stroke-linecap="butt"/>
<line x1="424.80" y1="279.10" x2="424.80" y2="281.90" stroke="#333" stroke-width="0.9" stroke-linecap="butt"/>
<text transform="translate(426.90,285.20) rotate(-90)" font-size="6" text-anchor="end" fill="#1e1e1e" stroke="#1e1e1e" stroke-width="0.08">6.3 mo</text>
<line x1="446.90" y1="279.10" x2="446.90" y2="281.90" stroke="#333" stroke-width="0.9" stroke-linecap="butt"/>
<text transform="translate(449.00,285.20) rotate(-90)" font-size="6" text-anchor="end" fill="#1e1e1e" stroke="#1e1e1e" stroke-width="0.08">14.0 mo</text>
<text transform="translate(388.25,201.80) rotate(-90)" font-size="5.0" font-weight="normal" font-style="normal" fill="#b2b2d6" stroke="#b2b2d6" stroke-width="0.16" textLength="22.90" lengthAdjust="spacingAndGlyphs">1st vaccine</text>
<text transform="translate(392.85,199.50) rotate(-90)" font-size="5.0" font-weight="normal" font-style="normal" fill="#b2b2d6" stroke="#b2b2d6" stroke-width="0.16" textLength="23.70" lengthAdjust="spacingAndGlyphs">2nd vaccine</text>
<text transform="translate(400.45,200.50) rotate(-90)" font-size="5.0" font-weight="normal" font-style="normal" fill="#f4bf58" stroke="#f4bf58" stroke-width="0.16" textLength="23.10" lengthAdjust="spacingAndGlyphs">BuAb start</text>
<text transform="translate(408.15,198.90) rotate(-90)" font-size="5.0" font-weight="normal" font-style="normal" fill="#f4bf58" stroke="#f4bf58" stroke-width="0.16" textLength="21.50" lengthAdjust="spacingAndGlyphs">BuAb end</text>
<text transform="translate(423.85,198.90) rotate(-90)" font-size="5.0" font-weight="normal" font-style="normal" fill="#b2b2d6" stroke="#b2b2d6" stroke-width="0.16" textLength="24.60" lengthAdjust="spacingAndGlyphs">3rd vaccine</text>
<text transform="translate(428.15,198.90) rotate(-90)" font-size="5.0" font-weight="normal" font-style="normal" fill="#b2b2d6" stroke="#b2b2d6" stroke-width="0.16" textLength="24.60" lengthAdjust="spacingAndGlyphs">4th vaccine</text>
<text transform="translate(443.86,199.70) rotate(-90)" font-size="4.8" font-weight="normal" font-style="normal" fill="#d43a5a" stroke="#d43a5a" stroke-width="0.16" textLength="30.00" lengthAdjust="spacingAndGlyphs">SARS-COV-2</text>
<text transform="translate(449.22,193.50) rotate(-90)" font-size="4.0" font-weight="normal" font-style="normal" fill="#d43a5a" stroke="#d43a5a" stroke-width="0.16" textLength="14.60" lengthAdjust="spacingAndGlyphs">NaF(+)</text>
<polyline points="392.00,236.80 394.60,240.50" fill="none" stroke="#eaa42a" stroke-width="1.1" stroke-linejoin="round"/>
<polyline points="397.90,246.20 404.20,256.30 424.30,253.40 428.60,246.20" fill="none" stroke="#eaa42a" stroke-width="1.1" stroke-linejoin="round"/>
<polyline points="431.10,240.50 447.10,212.50" fill="none" stroke="#eaa42a" stroke-width="1.1" stroke-linejoin="round"/>
<circle cx="392.00" cy="236.80" r="1.5" fill="#cf8a1a"/>
<circle cx="404.20" cy="256.30" r="1.5" fill="#cf8a1a"/>
<circle cx="424.30" cy="253.40" r="1.5" fill="#cf8a1a"/>
<circle cx="447.10" cy="212.50" r="1.5" fill="#cf8a1a"/>
<line x1="90" y1="262.50" x2="138" y2="262.50" stroke="#a898a8" stroke-width="1" stroke-dasharray="1 1"/>
<line x1="94.2" y1="261.00" x2="136.0" y2="261.00" stroke="#e78cb6" stroke-width="2.0"/>
<line x1="95" y1="261.10" x2="136.0" y2="261.10" stroke="#cc3a7c" stroke-width="1.0" stroke-dasharray="1 1"/>
<rect x="92.7" y="259.50" width="3.1" height="3.1" fill="#a8184e"/>
<rect x="134.5" y="259.50" width="3.1" height="3.1" fill="#a8184e"/>
<text x="422.8" y="131.0" font-size="5.6" font-style="italic" text-anchor="end" fill="#6a6a6a" textLength="10.0" lengthAdjust="spacingAndGlyphs">Not</text>
<text x="422.8" y="138.2" font-size="5.6" font-style="italic" text-anchor="end" fill="#6a6a6a" textLength="27.5" lengthAdjust="spacingAndGlyphs">vaccinated</text>
<line x1="0" y1="0.5" x2="520" y2="0.5" stroke="#474747" stroke-width="1.1"/>
<line x1="0.5" y1="0" x2="0.5" y2="313" stroke="#555" stroke-width="1.1"/>
<line x1="519.25" y1="0" x2="519.25" y2="313" stroke="#4a4a4a" stroke-width="1.5"/>
<line x1="0" y1="312.25" x2="520" y2="312.25" stroke="#4a4a4a" stroke-width="1.5"/>
</svg>
</body></html>
